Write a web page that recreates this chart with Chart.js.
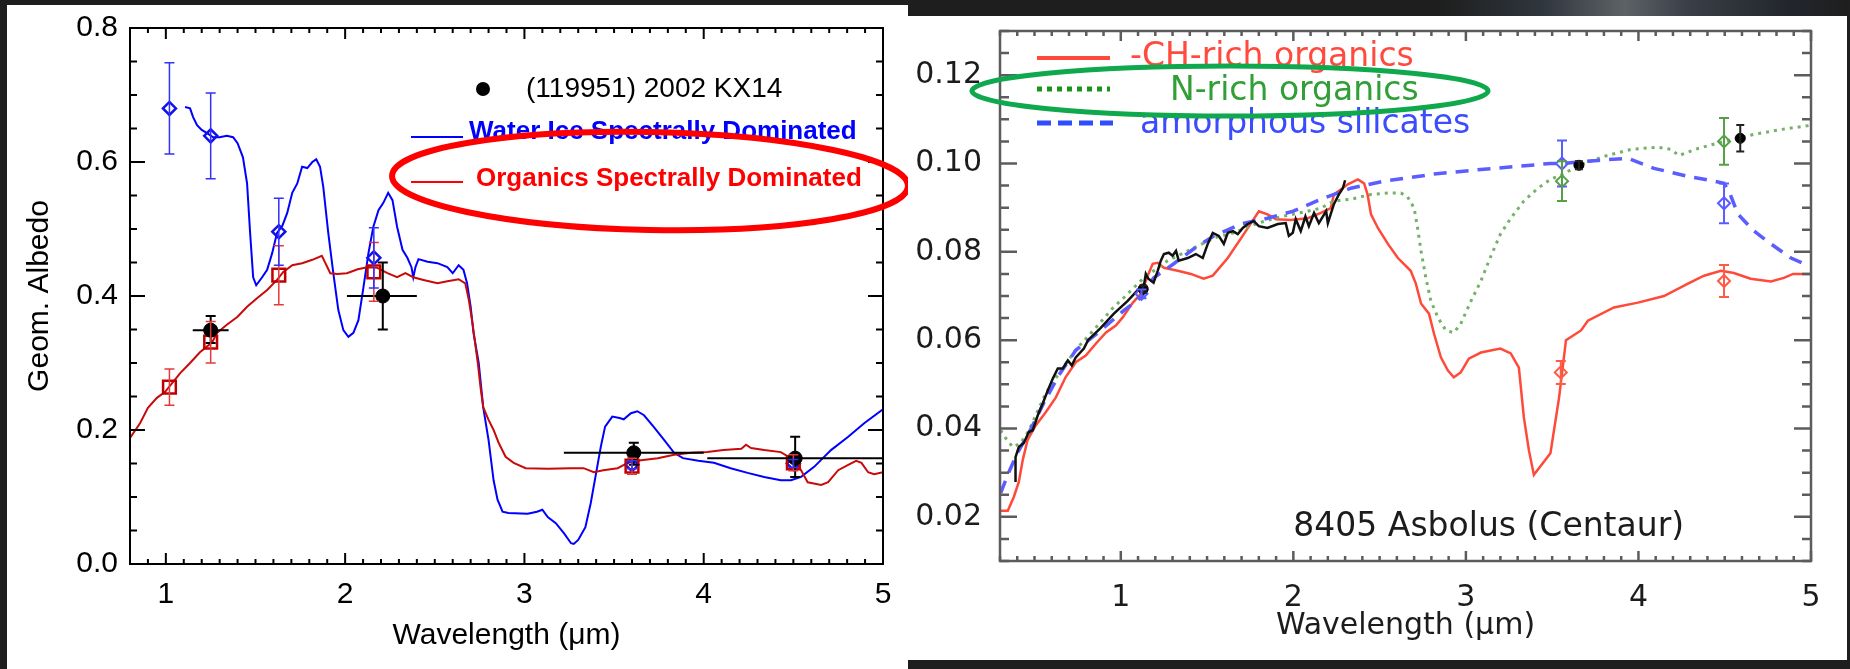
<!DOCTYPE html>
<html>
<head>
<meta charset="utf-8">
<script src="https://cdn.jsdelivr.net/npm/chart.js"></script>
<title>KX14 / Asbolus albedo</title>
<style>
  body { margin: 0; width: 1850px; height: 669px; background: #1e1e1e; overflow: hidden; position: relative; }
  #sky { position: absolute; left: 1440px; top: 0; width: 410px; height: 16px;
         background: linear-gradient(90deg, #1e1e1e, #30363e 25%, #5d6266 45%, #3a4048 60%, #22262c 85%, #1e1e1e); }
  #leftPanel { position: absolute; left: 7px; top: 5px; width: 901px; height: 664px; background: #fff; }
  #rightPanel { position: absolute; left: 908px; top: 16px; width: 939px; height: 644px; background: #fff; }
  canvas { position: absolute; left: 0; top: 0; }
</style>
</head>
<body>
<div id="sky"></div>
<div id="leftPanel"><canvas id="kx14" width="901" height="664"></canvas></div>
<div id="rightPanel"><canvas id="asbolus" width="939" height="644"></canvas></div>

<script>
// ---- left panel: (119951) 2002 KX14 ----
const kxTicksX = [1, 2, 3, 4, 5];
const kxTicksY = [0, 0.2, 0.4, 0.6, 0.8];

const iceWl = [1.107, 1.135, 1.152, 1.174, 1.20, 1.23, 1.264, 1.30, 1.34, 1.375, 1.40, 1.43, 1.453, 1.47, 1.487,
  1.504, 1.537, 1.565, 1.593, 1.62, 1.65, 1.677, 1.705, 1.733, 1.76, 1.789, 1.817, 1.839, 1.86, 1.878, 1.906,
  1.934, 1.962, 1.99, 2.018, 2.046, 2.074, 2.10, 2.13, 2.157, 2.186, 2.213, 2.24, 2.264, 2.29, 2.32, 2.347,
  2.37, 2.38, 2.392, 2.409, 2.46, 2.515, 2.57, 2.60, 2.633, 2.66, 2.68, 2.70, 2.716, 2.745, 2.77, 2.80, 2.828,
  2.85, 2.878, 2.91, 3.018, 3.07, 3.10, 3.13, 3.175, 3.22, 3.26, 3.275, 3.30, 3.34, 3.37, 3.40, 3.426, 3.45,
  3.49, 3.53, 3.554, 3.594, 3.63, 3.667, 3.72, 3.78, 3.835, 3.884, 3.97, 4.057, 4.15, 4.245, 4.337, 4.43,
  4.487, 4.543, 4.616, 4.71, 4.806, 4.895, 5.0];
const iceAlb = [0.682, 0.680, 0.667, 0.655, 0.648, 0.643, 0.637, 0.637, 0.639, 0.637, 0.628, 0.607, 0.568, 0.494, 0.428,
  0.416, 0.428, 0.439, 0.464, 0.494, 0.505, 0.524, 0.554, 0.568, 0.593, 0.591, 0.600, 0.604, 0.593, 0.563, 0.494,
  0.434, 0.379, 0.349, 0.339, 0.345, 0.364, 0.409, 0.464, 0.503, 0.528, 0.539, 0.554, 0.543, 0.503, 0.469, 0.457,
  0.443, 0.428, 0.443, 0.455, 0.451, 0.449, 0.443, 0.434, 0.446, 0.439, 0.419, 0.384, 0.345, 0.300, 0.234, 0.185, 0.125,
  0.096, 0.078, 0.076, 0.075, 0.078, 0.081, 0.070, 0.061, 0.046, 0.031, 0.030, 0.036, 0.055, 0.091, 0.136, 0.175, 0.205,
  0.220, 0.218, 0.216, 0.225, 0.228, 0.222, 0.205, 0.185, 0.166, 0.158, 0.154, 0.151, 0.143, 0.136, 0.130, 0.125,
  0.125, 0.130, 0.145, 0.170, 0.190, 0.210, 0.231];

const orgWl = [0.80, 0.856, 0.90, 0.95, 0.996, 1.08, 1.135, 1.19, 1.258, 1.286, 1.34, 1.40, 1.453, 1.51, 1.565,
  1.62, 1.655, 1.705, 1.76, 1.817, 1.87, 1.89, 1.917, 1.956, 2.01, 2.07, 2.124, 2.18, 2.236, 2.29, 2.336, 2.38,
  2.437, 2.515, 2.57, 2.633, 2.67, 2.69, 2.71, 2.74, 2.755, 2.77, 2.80, 2.828, 2.856, 2.895, 2.94, 3.007, 3.13,
  3.258, 3.33, 3.387, 3.44, 3.52, 3.576, 3.65, 3.744, 3.835, 3.93, 4.02, 4.11, 4.21, 4.236, 4.264, 4.337, 4.43,
  4.505, 4.543, 4.58, 4.655, 4.694, 4.75, 4.806, 4.85, 4.88, 4.917, 4.95, 5.0];
const orgAlb = [0.188, 0.210, 0.233, 0.248, 0.257, 0.285, 0.300, 0.316, 0.331, 0.345, 0.357, 0.369, 0.384, 0.397, 0.409,
  0.424, 0.436, 0.446, 0.449, 0.454, 0.460, 0.449, 0.434, 0.433, 0.434, 0.440, 0.443, 0.442, 0.434, 0.428, 0.434, 0.428,
  0.424, 0.419, 0.422, 0.425, 0.419, 0.394, 0.360, 0.300, 0.264, 0.234, 0.215, 0.200, 0.181, 0.160, 0.151, 0.143, 0.142,
  0.143, 0.143, 0.137, 0.140, 0.143, 0.151, 0.155, 0.158, 0.163, 0.166, 0.167, 0.170, 0.172, 0.178, 0.173, 0.170, 0.167,
  0.155, 0.140, 0.122, 0.118, 0.122, 0.140, 0.148, 0.154, 0.151, 0.137, 0.134, 0.137];

const bandWl = [1.02, 1.25, 1.63, 2.16, 3.6, 4.5];
const iceBandAlb = [0.680, 0.639, 0.496, 0.457, 0.148, 0.150];
const iceBandErr = [0.068, 0.064, 0.050, 0.045, 0.006, 0.006];
const orgBandAlb = [0.264, 0.331, 0.431, 0.436, 0.146, 0.151];
const orgBandErr = [0.027, 0.031, 0.044, 0.044, 0.012, 0.012];

const kxWl = [1.25, 2.21, 3.61, 4.51];
const kxAlb = [0.349, 0.400, 0.166, 0.158];
const kxAlbLo = [0.330, 0.350, 0.148, 0.130];
const kxAlbHi = [0.370, 0.450, 0.181, 0.190];
const kxWlLo = [1.15, 2.01, 3.22, 4.02];
const kxWlHi = [1.35, 2.40, 4.00, 5.00];

// ---- right panel: 8405 Asbolus ----
const asbTicksX = [1, 2, 3, 4, 5];
const asbTicksY = [0.02, 0.04, 0.06, 0.08, 0.10, 0.12];

const specWl = [0.39, 0.39, 0.409, 0.438, 0.467, 0.49, 0.519, 0.548, 0.577, 0.606, 0.635, 0.664, 0.693, 0.716, 0.739,
  0.786, 0.81, 0.884, 0.96, 1.04, 1.105, 1.127, 1.145, 1.16, 1.19, 1.214, 1.232, 1.25, 1.278, 1.30, 1.32, 1.336,
  1.388, 1.435, 1.475, 1.504, 1.533, 1.568, 1.597, 1.62, 1.65, 1.678, 1.707, 1.736, 1.77, 1.80, 1.85, 1.91, 1.956,
  1.974, 1.997, 2.014, 2.043, 2.07, 2.09, 2.12, 2.148, 2.19, 2.2, 2.235, 2.264, 2.287, 2.3];
const specAlb = [0.0279, 0.0335, 0.0358, 0.0367, 0.0392, 0.0396, 0.0430, 0.0457, 0.0486, 0.0513, 0.0536, 0.0536, 0.0554, 0.0543, 0.0561,
  0.0581, 0.0600, 0.0628, 0.0660, 0.0689, 0.0716, 0.0707, 0.0750, 0.0739, 0.0730, 0.0757, 0.0780, 0.0795, 0.0798, 0.0791, 0.0802, 0.0780,
  0.0786, 0.0795, 0.0786, 0.0818, 0.0843, 0.0836, 0.0818, 0.0843, 0.0847, 0.0840, 0.0854, 0.0863, 0.0870, 0.0858, 0.0854, 0.0863, 0.0865,
  0.0836, 0.0843, 0.0874, 0.0847, 0.0880, 0.0858, 0.0888, 0.0865, 0.0892, 0.0865, 0.0908, 0.0930, 0.0944, 0.0962];

const chWl = [0.304, 0.345, 0.38, 0.409, 0.432, 0.46, 0.507, 0.565, 0.623, 0.68, 0.739, 0.797, 0.855, 0.913, 0.971,
  1.01, 1.07, 1.116, 1.156, 1.185, 1.214, 1.25, 1.33, 1.406, 1.48, 1.533, 1.62, 1.713, 1.80, 1.85, 1.90, 1.985,
  2.084, 2.16, 2.217, 2.235, 2.316, 2.374, 2.41, 2.43, 2.45, 2.49, 2.548, 2.606, 2.68, 2.71, 2.74, 2.786, 2.815,
  2.855, 2.896, 2.93, 2.97, 3.017, 3.087, 3.2, 3.26, 3.307, 3.336, 3.365, 3.394, 3.49, 3.54, 3.58, 3.667, 3.707,
  3.858, 3.997, 4.148, 4.287, 4.38, 4.478, 4.553, 4.65, 4.768, 4.843, 4.896, 5.0];
const chAlb = [0.0214, 0.0214, 0.0245, 0.0279, 0.0329, 0.0374, 0.0407, 0.0437, 0.0470, 0.0516, 0.0550, 0.0565, 0.0592, 0.0617, 0.0633,
  0.0651, 0.0685, 0.0705, 0.0746, 0.0773, 0.0775, 0.0764, 0.0757, 0.0750, 0.0739, 0.0746, 0.0786, 0.0840, 0.0892, 0.0885, 0.0874, 0.0872,
  0.0876, 0.0888, 0.0899, 0.0930, 0.0953, 0.0964, 0.0955, 0.0930, 0.0885, 0.0854, 0.0818, 0.0786, 0.0757, 0.0728, 0.0683, 0.0660, 0.0615,
  0.0561, 0.0531, 0.0516, 0.0527, 0.0558, 0.0572, 0.0581, 0.0570, 0.0538, 0.0425, 0.0351, 0.0295, 0.0344, 0.0470, 0.0600, 0.0622, 0.0644,
  0.0674, 0.0685, 0.0700, 0.0728, 0.0746, 0.0757, 0.0752, 0.0739, 0.0733, 0.0741, 0.0750, 0.0750];

const nWl = [0.304, 0.333, 0.374, 0.42, 0.467, 0.565, 0.664, 0.75, 0.855, 0.954, 1.017, 1.133, 1.272, 1.388, 1.539,
  1.655, 1.794, 1.945, 2.084, 2.16, 2.235, 2.333, 2.45, 2.548, 2.623, 2.66, 2.70, 2.72, 2.74, 2.768, 2.797, 2.838,
  2.884, 2.93, 2.97, 3.03, 3.087, 3.14, 3.2, 3.26, 3.336, 3.417, 3.49, 3.557, 3.667, 3.8, 3.957, 4.113, 4.188,
  4.235, 4.345, 4.496, 4.67, 4.826, 4.99];
const nAlb = [0.0396, 0.0378, 0.0358, 0.0367, 0.0395, 0.0480, 0.0538, 0.0583, 0.0628, 0.0673, 0.0696, 0.0741, 0.0780, 0.0802, 0.0831,
  0.0843, 0.0865, 0.0881, 0.0892, 0.0899, 0.0915, 0.0919, 0.0930, 0.0933, 0.0933, 0.0926, 0.0899, 0.0854, 0.0802, 0.0741, 0.0689, 0.0651,
  0.0622, 0.0617, 0.0637, 0.0689, 0.0734, 0.0786, 0.0840, 0.0876, 0.0915, 0.0944, 0.0964, 0.0975, 0.0998, 0.1016, 0.1032, 0.1037, 0.1032,
  0.1018, 0.1034, 0.1050, 0.1066, 0.1077, 0.1086];

const silWl = [0.304, 0.35, 0.40, 0.467, 0.55, 0.64, 0.739, 0.884, 1.017, 1.116, 1.19, 1.307, 1.423, 1.539, 1.696,
  1.85, 2.0, 2.16, 2.333, 2.525, 2.815, 3.104, 3.49, 3.557, 3.765, 3.939, 4.09, 4.287, 4.438, 4.496, 4.525, 4.577,
  4.67, 4.768, 4.884, 4.99];
const silAlb = [0.0254, 0.0300, 0.0344, 0.0390, 0.0455, 0.0520, 0.0577, 0.0622, 0.0667, 0.0696, 0.0741, 0.0773, 0.0807, 0.0836, 0.0863,
  0.0876, 0.0892, 0.0919, 0.0944, 0.0960, 0.0976, 0.0987, 0.1000, 0.1000, 0.1007, 0.1012, 0.0989, 0.0971, 0.0960, 0.0955, 0.0937, 0.0885,
  0.0847, 0.0818, 0.0786, 0.0768];

const silBandWl = [1.12, 3.557, 4.496];
const silBandAlb = [0.0705, 0.100, 0.091];
const silBandErr = [0.0010, 0.0052, 0.0045];
const nBandWl = [3.557, 4.496];
const nBandAlb = [0.096, 0.105];
const nBandErr = [0.0045, 0.0053];
const chBandWl = [3.55, 4.496];
const chBandAlb = [0.0527, 0.0734];
const chBandErr = [0.0026, 0.0036];
const asbWl = [1.13, 3.655, 4.59];
const asbAlb = [0.0716, 0.0996, 0.1057];
const asbErr = [0.0008, 0.0009, 0.0030];

const pts = (xs, ys) => xs.map((x, i) => ({ x: x, y: ys[i] }));
const band = (ys, es) => ys.map((y, i) => [y - es[i], y + es[i]]);

const sansL = "'Liberation Sans', Arial, Helvetica, sans-serif";
const sansR = "'DejaVu Sans', sans-serif";

// error bars with caps, from dataset.errY / dataset.errX
const errorBars = {
  id: 'errorBars',
  afterDatasetsDraw(chart) {
    const { ctx, scales: { x, y } } = chart;
    ctx.save();
    chart.data.datasets.forEach(ds => {
      if (!ds.errY && !ds.errX) return;
      const cap = ds.errCap || 4;
      ctx.strokeStyle = ds.errColor || ds.borderColor;
      ctx.lineWidth = ds.errWidth || 1.5;
      ctx.beginPath();
      ds.data.forEach((p, i) => {
        const px = x.getPixelForValue(p.x), py = y.getPixelForValue(p.y);
        if (ds.errY) {
          const lo = y.getPixelForValue(ds.errY[i][0]), hi = y.getPixelForValue(ds.errY[i][1]);
          ctx.moveTo(px, lo); ctx.lineTo(px, hi);
          ctx.moveTo(px - cap, lo); ctx.lineTo(px + cap, lo);
          ctx.moveTo(px - cap, hi); ctx.lineTo(px + cap, hi);
        }
        if (ds.errX) {
          ctx.moveTo(x.getPixelForValue(ds.errX[i][0]), py);
          ctx.lineTo(x.getPixelForValue(ds.errX[i][1]), py);
        }
      });
      ctx.stroke();
    });
    ctx.restore();
  }
};

// IDL style box with inward major/minor ticks on all four sides
const frameTicks = {
  id: 'frameTicks',
  afterDatasetsDraw(chart, args, o) {
    const { ctx, chartArea: a, scales: { x, y } } = chart;
    ctx.save();
    ctx.strokeStyle = o.color;
    ctx.lineWidth = o.width;
    ctx.beginPath();
    for (let i = o.xFrom; i <= o.xTo; i++) {
      const px = x.getPixelForValue(i * o.xStep);
      const len = i % o.xEvery === 0 ? o.xMajor : o.xMinor;
      ctx.moveTo(px, a.bottom); ctx.lineTo(px, a.bottom - len);
      ctx.moveTo(px, a.top); ctx.lineTo(px, a.top + len);
    }
    for (let i = o.yFrom; i <= o.yTo; i++) {
      const py = y.getPixelForValue(i * o.yStep);
      const len = i % o.yEvery === 0 ? o.yMajor : o.yMinor;
      ctx.moveTo(a.left, py); ctx.lineTo(a.left + len, py);
      ctx.moveTo(a.right, py); ctx.lineTo(a.right - len, py);
    }
    ctx.stroke();
    ctx.strokeRect(a.left, a.top, a.right - a.left, a.bottom - a.top);
    ctx.restore();
  }
};

// legend samples, labels and the hand drawn ellipses (offsets from chart area corner)
const panelNotes = {
  id: 'panelNotes',
  afterDraw(chart, args, o) {
    const { ctx, chartArea: a, scales: { x, y } } = chart;
    ctx.save();
    o.items.forEach(it => {
      const X = it.wl !== undefined ? x.getPixelForValue(it.wl) : a.left + it.x;
      const Y = it.alb !== undefined ? y.getPixelForValue(it.alb) : a.top + it.y;
      if (it.type === 'line') {
        ctx.strokeStyle = it.color; ctx.lineWidth = it.width;
        ctx.setLineDash(it.dash || []);
        ctx.beginPath(); ctx.moveTo(X, Y); ctx.lineTo(X + it.len, Y); ctx.stroke();
        ctx.setLineDash([]);
      } else if (it.type === 'dot') {
        ctx.fillStyle = it.color;
        ctx.beginPath(); ctx.arc(X, Y, it.r, 0, Math.PI * 2); ctx.fill();
      } else if (it.type === 'text') {
        ctx.fillStyle = it.color; ctx.font = it.font;
        ctx.textAlign = 'left'; ctx.textBaseline = 'middle';
        ctx.fillText(it.text, X, Y);
      } else if (it.type === 'ellipse') {
        ctx.strokeStyle = it.color; ctx.lineWidth = it.width;
        ctx.beginPath(); ctx.ellipse(X, Y, it.rx, it.ry, it.rot || 0, 0, Math.PI * 2); ctx.stroke();
      }
    });
    ctx.restore();
  }
};

function axisX(ticks, min, max, font, color, labelPad, boxHeight, titlePad) {
  return {
    type: 'linear', min: min, max: max, bounds: 'data',
    grid: { display: false }, border: { display: false },
    afterBuildTicks: s => { s.ticks = ticks.map(v => ({ value: v })); },
    afterFit: s => { s.height = boxHeight; s.paddingLeft = 0; s.paddingRight = 0; },
    ticks: { padding: labelPad, color: color, autoSkip: false, maxRotation: 0, font: font, callback: v => String(v) },
    title: { display: true, text: 'Wavelength (μm)', color: color, font: font, padding: { top: 0, bottom: titlePad } }
  };
}

function axisY(ticks, min, max, digits, font, color, labelPad, boxWidth) {
  return {
    type: 'linear', min: min, max: max, bounds: 'data',
    grid: { display: false }, border: { display: false },
    afterBuildTicks: s => { s.ticks = ticks.map(v => ({ value: v })); },
    afterFit: s => { s.width = boxWidth; s.paddingTop = 0; s.paddingBottom = 0; },
    ticks: { padding: labelPad, color: color, autoSkip: false, font: font, callback: v => v.toFixed(digits) }
  };
}

// ---------------- left chart ----------------
const kxY = axisY(kxTicksY, 0, 0.8, 1, { family: sansL, size: 30 }, '#000', 4, 123);
kxY.title = { display: true, text: 'Geom. Albedo', color: '#000', font: { family: sansL, size: 30 }, padding: { top: 15, bottom: 0 } };

new Chart(document.getElementById('kx14'), {
  type: 'scatter',
  data: {
    datasets: [
      {
        label: '(119951) 2002 KX14', data: pts(kxWl, kxAlb),
        errY: kxAlbLo.map((lo, i) => [lo, kxAlbHi[i]]), errX: kxWlLo.map((lo, i) => [lo, kxWlHi[i]]),
        errColor: '#000', errWidth: 2, errCap: 5,
        pointStyle: 'circle', pointRadius: 7, backgroundColor: '#000', borderColor: '#000'
      },
      {
        label: 'Organics bands', data: pts(bandWl, orgBandAlb), errY: band(orgBandAlb, orgBandErr),
        errColor: '#e23a3a', errWidth: 1.5, errCap: 5,
        pointStyle: 'rect', pointRadius: 9, borderWidth: 2.5, borderColor: '#c00000', backgroundColor: 'rgba(0,0,0,0)'
      },
      {
        label: 'Water ice bands', data: pts(bandWl, iceBandAlb), errY: band(iceBandAlb, iceBandErr),
        errColor: '#3030ff', errWidth: 1.5, errCap: 5,
        pointStyle: 'rectRot', pointRadius: 6.5, borderWidth: 2.5, borderColor: '#1010ee', backgroundColor: 'rgba(0,0,0,0)'
      },
      {
        label: 'Organics Spectrally Dominated', data: pts(orgWl, orgAlb), showLine: true,
        pointRadius: 0, borderColor: '#c80a0a', borderWidth: 2
      },
      {
        label: 'Water Ice Spectrally Dominated', data: pts(iceWl, iceAlb), showLine: true,
        pointRadius: 0, borderColor: '#0000ff', borderWidth: 2
      }
    ]
  },
  options: {
    responsive: false, animation: false,
    layout: { padding: { top: 23, right: 25, left: 0, bottom: 0 } },
    plugins: {
      legend: { display: false }, tooltip: { enabled: false },
      frameTicks: { color: '#000', width: 2, xStep: 0.1, xFrom: 8, xTo: 50, xEvery: 10, xMajor: 11, xMinor: 5,
                    yStep: 0.05, yFrom: 0, yTo: 16, yEvery: 4, yMajor: 15, yMinor: 7 },
      panelNotes: { items: [
        { type: 'dot', x: 353, y: 61, r: 7, color: '#000' },
        { type: 'text', x: 396, y: 61, text: '(119951) 2002 KX14', color: '#000', font: '28px ' + sansL },
        { type: 'line', x: 281, y: 109, len: 52, color: '#0000ff', width: 2 },
        { type: 'text', x: 339, y: 104, text: 'Water Ice Spectrally Dominated', color: '#0000ff', font: 'bold 26px ' + sansL },
        { type: 'line', x: 281, y: 154, len: 52, color: '#ff0000', width: 2 },
        { type: 'text', x: 346, y: 151, text: 'Organics Spectrally Dominated', color: '#ff0000', font: 'bold 26px ' + sansL },
        { type: 'ellipse', x: 520, y: 153, rx: 258, ry: 49, rot: 0.02, color: '#ff0000', width: 6 }
      ] }
    },
    scales: {
      x: axisX(kxTicksX, 0.8, 5, { family: sansL, size: 30 }, '#000', 5, 105, 15),
      y: kxY
    }
  },
  plugins: [errorBars, frameTicks, panelNotes]
});

// ---------------- right chart ----------------
new Chart(document.getElementById('asbolus'), {
  type: 'scatter',
  data: {
    datasets: [
      {
        label: 'Asbolus photometry', data: pts(asbWl, asbAlb), errY: band(asbAlb, asbErr),
        errColor: '#222', errWidth: 2, errCap: 4,
        pointStyle: 'circle', pointRadius: 5, backgroundColor: '#000', borderColor: '#000'
      },
      {
        label: 'silicates bands', data: pts(silBandWl, silBandAlb), errY: band(silBandAlb, silBandErr),
        errColor: '#5a5cff', errWidth: 2, errCap: 5,
        pointStyle: 'rectRot', pointRadius: 6, borderWidth: 2, borderColor: '#5a5cff', backgroundColor: 'rgba(0,0,0,0)'
      },
      {
        label: 'N-rich bands', data: pts(nBandWl, nBandAlb), errY: band(nBandAlb, nBandErr),
        errColor: '#55a045', errWidth: 2, errCap: 5,
        pointStyle: 'rectRot', pointRadius: 6, borderWidth: 2, borderColor: '#55a045', backgroundColor: 'rgba(0,0,0,0)'
      },
      {
        label: 'CH-rich bands', data: pts(chBandWl, chBandAlb), errY: band(chBandAlb, chBandErr),
        errColor: '#ff5a45', errWidth: 2, errCap: 5,
        pointStyle: 'rectRot', pointRadius: 6, borderWidth: 2, borderColor: '#ff5a45', backgroundColor: 'rgba(0,0,0,0)'
      },
      {
        label: 'Asbolus spectrum', data: pts(specWl, specAlb), showLine: true,
        pointRadius: 0, borderColor: '#111', borderWidth: 2.5
      },
      {
        label: 'amorphous silicates', data: pts(silWl, silAlb), showLine: true,
        pointRadius: 0, borderColor: '#5b5dff', borderWidth: 3.5, borderDash: [13, 9]
      },
      {
        label: 'N-rich organics', data: pts(nWl, nAlb), showLine: true,
        pointRadius: 0, borderColor: '#74b268', borderWidth: 3, borderDash: [3, 5]
      },
      {
        label: '-CH-rich organics', data: pts(chWl, chAlb), showLine: true,
        pointRadius: 0, borderColor: '#ff4a3a', borderWidth: 2.5
      }
    ]
  },
  options: {
    responsive: false, animation: false,
    layout: { padding: { top: 15, right: 36, left: 0, bottom: 0 } },
    plugins: {
      legend: { display: false }, tooltip: { enabled: false },
      frameTicks: { color: '#5c5c5c', width: 2.5, xStep: 0.1, xFrom: 3, xTo: 50, xEvery: 10, xMajor: 10, xMinor: 5,
                    yStep: 0.005, yFrom: 2, yTo: 26, yEvery: 4, yMajor: 17, yMinor: 9 },
      panelNotes: { items: [
        { type: 'line', x: 37, y: 27, len: 73, color: '#ff4a3a', width: 4 },
        { type: 'text', x: 130, y: 26, text: '-CH-rich organics', color: '#ff4a3d', font: '33px ' + sansR },
        { type: 'line', x: 37, y: 58, len: 73, color: '#1a931a', width: 5, dash: [5, 5] },
        { type: 'text', x: 170, y: 60, text: 'N-rich organics', color: '#2f9f36', font: '33px ' + sansR },
        { type: 'line', x: 37, y: 92, len: 76, color: '#2f4dff', width: 5, dash: [14, 7] },
        { type: 'text', x: 140, y: 93, text: 'amorphous silicates', color: '#3b4cff', font: '33px ' + sansR },
        { type: 'text', wl: 2.0, alb: 0.0175, text: '8405 Asbolus (Centaur)', color: '#1c1c1c', font: '33px ' + sansR },
        { type: 'ellipse', x: 230, y: 60, rx: 258, ry: 25, color: '#10a84c', width: 5 }
      ] }
    },
    scales: {
      x: axisX(asbTicksX, 0.3, 5, { family: sansR, size: 30 }, '#1c1c1c', 11, 99, 16),
      y: axisY(asbTicksY, 0.01, 0.13, 2, { family: sansR, size: 30 }, '#1c1c1c', 10, 92)
    }
  },
  plugins: [errorBars, frameTicks, panelNotes]
});
</script>
</body>
</html>
